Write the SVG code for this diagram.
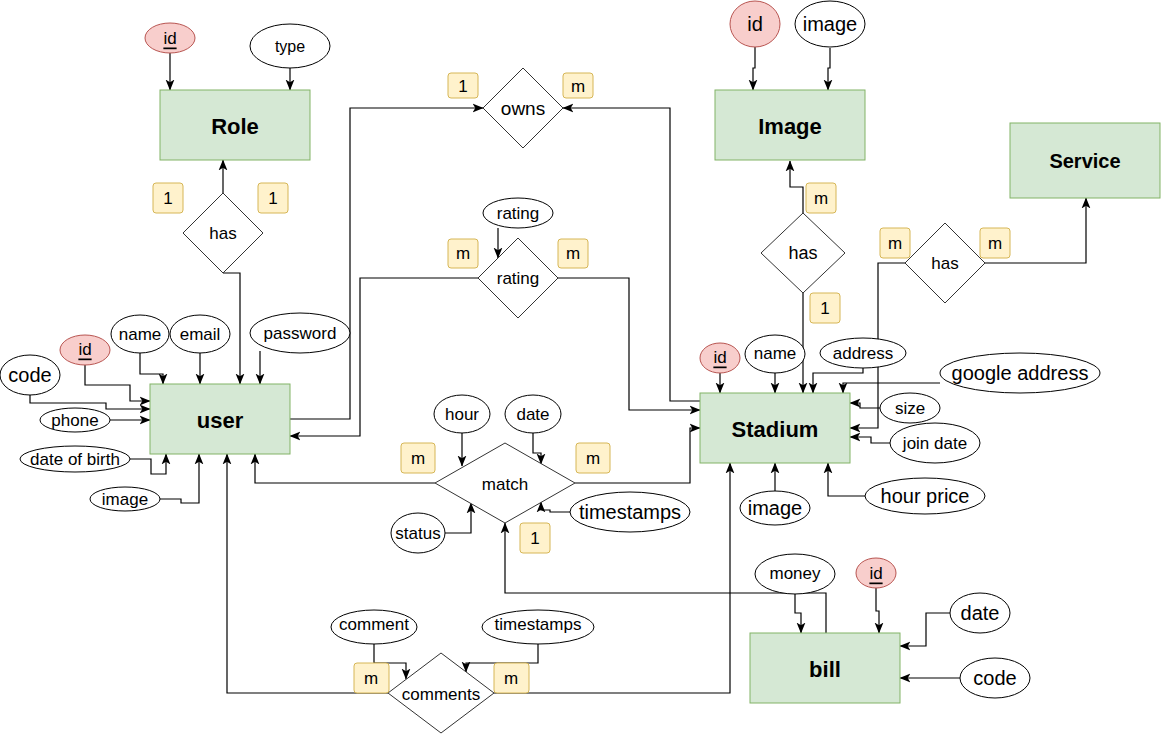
<svg xmlns="http://www.w3.org/2000/svg" width="1161" height="734" viewBox="0 0 1161 734">
<style>
text{font-family:"Liberation Sans",Arial,sans-serif;fill:#000;text-anchor:middle;dominant-baseline:central}
.ent rect{fill:#d5e8d4;stroke:#82b366;stroke-width:1}
.ent text{font-weight:bold;font-size:22px}
.attr ellipse{fill:#fff;stroke:#000;stroke-width:1}
.attr.pk ellipse{fill:#f8cecc;stroke:#b85450}
.attr text{font-size:17px}
.attr.big text{font-size:20px}
.pk text{text-decoration:underline}
.rel polygon{fill:#fff;stroke:#333;stroke-width:1}
.rel text{font-size:17px}
.card rect{fill:#fff2cc;stroke:#d6b656;stroke-width:1}
.card text{font-size:17px}
#connectors path{fill:none;stroke:#000;stroke-width:1.2;marker-end:url(#arr)}
</style>
<defs>
<marker id="arr" markerUnits="userSpaceOnUse" markerWidth="11" markerHeight="11" viewBox="0 0 10 10" refX="9.5" refY="5" orient="auto">
<path d="M0,1 L10,5 L0,9 L2.5,5 z" fill="#000"/>
</marker>
</defs>
<rect x="0" y="0" width="1161" height="734" fill="#fff"/>

<g id="connectors">
<path d="M170,53 V90"/>
<path d="M290,68 V90"/>
<path d="M223,193 V160"/>
<path d="M223,273 H240 V384"/>
<path d="M140,353 V374 H163 V384"/>
<path d="M200,353 V384"/>
<path d="M260,351 V384"/>
<path d="M85,365 V385 H130 V401 H150"/>
<path d="M30,395 V403 H106 V409 H150"/>
<path d="M110,420 H150"/>
<path d="M130,459 H151 V474 H166 V454"/>
<path d="M160,499 H181 V503 H199 V454"/>
<path d="M290,419 H350 V108 H483"/>
<path d="M700,401 H670 V108 H563"/>
<path d="M478,278 H360 V436 H290"/>
<path d="M558,278 H629 V410 H700"/>
<path d="M498,228 V258"/>
<path d="M435,483 H255 V454"/>
<path d="M575,483 H690 V428 H700"/>
<path d="M462,433 V466"/>
<path d="M533,433 V453 H541 V464"/>
<path d="M445,533 H471 V503"/>
<path d="M570,512 H550 V510 H541 V502"/>
<path d="M826,633 V593 H505 V523"/>
<path d="M388,693 H227 V454"/>
<path d="M494,693 H730 V463"/>
<path d="M374,644 V663 H406 V679"/>
<path d="M538,644 V663 H466 V672"/>
<path d="M755,47 V68 H753 V90"/>
<path d="M830,48 V68 H828 V90"/>
<path d="M803,213 V187 H790 V161"/>
<path d="M803,293 V393"/>
<path d="M985,263 H1086 V198"/>
<path d="M905,263 H878 V428 H850"/>
<path d="M720,373 V393"/>
<path d="M775,373 V393"/>
<path d="M863,368 V373 H813 V393"/>
<path d="M940,383 H843 V393"/>
<path d="M880,408 H860 V403 H850"/>
<path d="M890,443 H871 V437 H850"/>
<path d="M775,491 V463"/>
<path d="M865,496 H828 V463"/>
<path d="M795,594 V613 H801 V633"/>
<path d="M876,588 V611 H879 V633"/>
<path d="M950,613 H926 V646 H900"/>
<path d="M960,678 H900"/>
</g>

<g id="role" class="ent"><rect x="160" y="90" width="150" height="70"/><text x="235" y="126">Role</text></g>
<g id="user" class="ent"><rect x="150" y="384" width="140" height="70"/><text x="220" y="420">user</text></g>
<g id="stadium" class="ent"><rect x="700" y="393" width="150" height="70"/><text x="775" y="429">Stadium</text></g>
<g id="image" class="ent"><rect x="715" y="90" width="150" height="70"/><text x="790" y="126">Image</text></g>
<g id="service" class="ent"><rect x="1010" y="123" width="150" height="75"/><text x="1085" y="161" style="font-size:20px">Service</text></g>
<g id="bill" class="ent"><rect x="750" y="633" width="150" height="70"/><text x="825" y="669">bill</text></g>

<g id="role-id" class="attr pk"><ellipse cx="170" cy="38" rx="25" ry="15"/><text x="170" y="38">id</text></g>
<g id="role-type" class="attr"><ellipse cx="290" cy="46" rx="40" ry="22"/><text x="290" y="46" style="font-size:16px">type</text></g>

<g id="user-name" class="attr"><ellipse cx="140" cy="334" rx="29" ry="19"/><text x="140" y="334">name</text></g>
<g id="user-email" class="attr"><ellipse cx="200" cy="334" rx="30" ry="19"/><text x="200" y="334">email</text></g>
<g id="user-password" class="attr"><ellipse cx="300" cy="333" rx="50" ry="20"/><text x="300" y="333">password</text></g>
<g id="user-id" class="attr pk"><ellipse cx="85" cy="350" rx="25" ry="15"/><text x="85" y="349">id</text></g>
<g id="user-code" class="attr big"><ellipse cx="30" cy="375" rx="30" ry="20"/><text x="30" y="375">code</text></g>
<g id="user-phone" class="attr"><ellipse cx="75" cy="420" rx="35" ry="12"/><text x="75" y="420">phone</text></g>
<g id="user-dob" class="attr"><ellipse cx="75" cy="459" rx="55" ry="13"/><text x="75" y="459">date of birth</text></g>
<g id="user-image" class="attr"><ellipse cx="125" cy="499" rx="35" ry="12"/><text x="125" y="499">image</text></g>

<g id="rating-attr" class="attr"><ellipse cx="518" cy="213" rx="35" ry="15"/><text x="518" y="213">rating</text></g>

<g id="match-hour" class="attr"><ellipse cx="462" cy="414" rx="28" ry="19"/><text x="462" y="414">hour</text></g>
<g id="match-date" class="attr"><ellipse cx="533" cy="414" rx="28" ry="19"/><text x="533" y="414">date</text></g>
<g id="match-status" class="attr"><ellipse cx="418" cy="533" rx="27" ry="20"/><text x="418" y="533">status</text></g>
<g id="match-timestamps" class="attr big"><ellipse cx="630" cy="512" rx="60" ry="20"/><text x="630" y="512">timestamps</text></g>

<g id="comments-comment" class="attr"><ellipse cx="374" cy="627" rx="43" ry="17"/><text x="374" y="624">comment</text></g>
<g id="comments-timestamps" class="attr"><ellipse cx="538" cy="627" rx="56" ry="17"/><text x="538" y="624">timestamps</text></g>

<g id="image-id" class="attr pk big"><ellipse cx="755" cy="24" rx="25" ry="23"/><text x="755" y="24" style="text-decoration:none">id</text></g>
<g id="image-image" class="attr big"><ellipse cx="830" cy="24" rx="35" ry="23"/><text x="830" y="24">image</text></g>

<g id="stadium-id" class="attr pk"><ellipse cx="720" cy="358" rx="20" ry="15"/><text x="720" y="357">id</text></g>
<g id="stadium-name" class="attr"><ellipse cx="775" cy="354" rx="30" ry="19"/><text x="775" y="353">name</text></g>
<g id="stadium-address" class="attr"><ellipse cx="863" cy="353" rx="43" ry="15"/><text x="863" y="353">address</text></g>
<g id="stadium-google" class="attr big"><ellipse cx="1020" cy="373" rx="80" ry="20"/><text x="1020" y="373">google address</text></g>
<g id="stadium-size" class="attr"><ellipse cx="910" cy="408" rx="30" ry="15"/><text x="910" y="408">size</text></g>
<g id="stadium-join" class="attr"><ellipse cx="935" cy="443" rx="45" ry="20"/><text x="935" y="443">join date</text></g>
<g id="stadium-image" class="attr big"><ellipse cx="775" cy="508" rx="35" ry="17"/><text x="775" y="508">image</text></g>
<g id="stadium-hourprice" class="attr big"><ellipse cx="925" cy="496" rx="60" ry="18"/><text x="925" y="496">hour price</text></g>

<g id="bill-money" class="attr"><ellipse cx="795" cy="574" rx="40" ry="20"/><text x="795" y="573">money</text></g>
<g id="bill-id" class="attr pk"><ellipse cx="876" cy="573" rx="20" ry="15"/><text x="876" y="573">id</text></g>
<g id="bill-date" class="attr big"><ellipse cx="980" cy="613" rx="30" ry="20"/><text x="980" y="613">date</text></g>
<g id="bill-code" class="attr big"><ellipse cx="995" cy="678" rx="35" ry="20"/><text x="995" y="678">code</text></g>

<g id="rel-role-has" class="rel"><polygon points="223,193 263,233 223,273 183,233"/><text x="223" y="233">has</text></g>
<g id="rel-owns" class="rel"><polygon points="523,68 563,108 523,148 483,108"/><text x="523" y="108" style="font-size:19px">owns</text></g>
<g id="rel-rating" class="rel"><polygon points="518,238 558,278 518,318 478,278"/><text x="518" y="278">rating</text></g>
<g id="rel-image-has" class="rel"><polygon points="803,213 845,253 803,293 761,253"/><text x="803" y="253" style="font-size:18px">has</text></g>
<g id="rel-service-has" class="rel"><polygon points="945,223 985,263 945,303 905,263"/><text x="945" y="263">has</text></g>
<g id="rel-match" class="rel"><polygon points="505,443 575,483 505,523 435,483"/><text x="505" y="484">match</text></g>
<g id="rel-comments" class="rel"><polygon points="441,653 494,693 441,733 388,693"/><text x="441" y="694">comments</text></g>

<g id="cardinalities" class="card">
<rect x="153" y="183" width="30" height="30" rx="3"/><text x="168" y="198">1</text>
<rect x="258" y="183" width="30" height="30" rx="3"/><text x="273" y="198">1</text>
<rect x="448" y="73" width="30" height="25" rx="3"/><text x="463" y="86">1</text>
<rect x="563" y="73" width="30" height="25" rx="3"/><text x="578" y="86">m</text>
<rect x="448" y="239" width="30" height="29" rx="3"/><text x="463" y="253">m</text>
<rect x="558" y="239" width="30" height="29" rx="3"/><text x="573" y="253">m</text>
<rect x="806" y="183" width="30" height="30" rx="3"/><text x="821" y="198">m</text>
<rect x="810" y="293" width="30" height="30" rx="3"/><text x="825" y="308">1</text>
<rect x="880" y="228" width="30" height="30" rx="3"/><text x="895" y="243">m</text>
<rect x="980" y="228" width="30" height="30" rx="3"/><text x="995" y="243">m</text>
<rect x="401" y="443" width="34" height="30" rx="3"/><text x="418" y="458">m</text>
<rect x="576" y="443" width="34" height="30" rx="3"/><text x="593" y="458">m</text>
<rect x="520" y="523" width="30" height="30" rx="3"/><text x="535" y="538">1</text>
<rect x="354" y="663" width="35" height="30" rx="3"/><text x="371" y="678">m</text>
<rect x="494" y="663" width="35" height="30" rx="3"/><text x="511" y="678">m</text>
</g>
</svg>
